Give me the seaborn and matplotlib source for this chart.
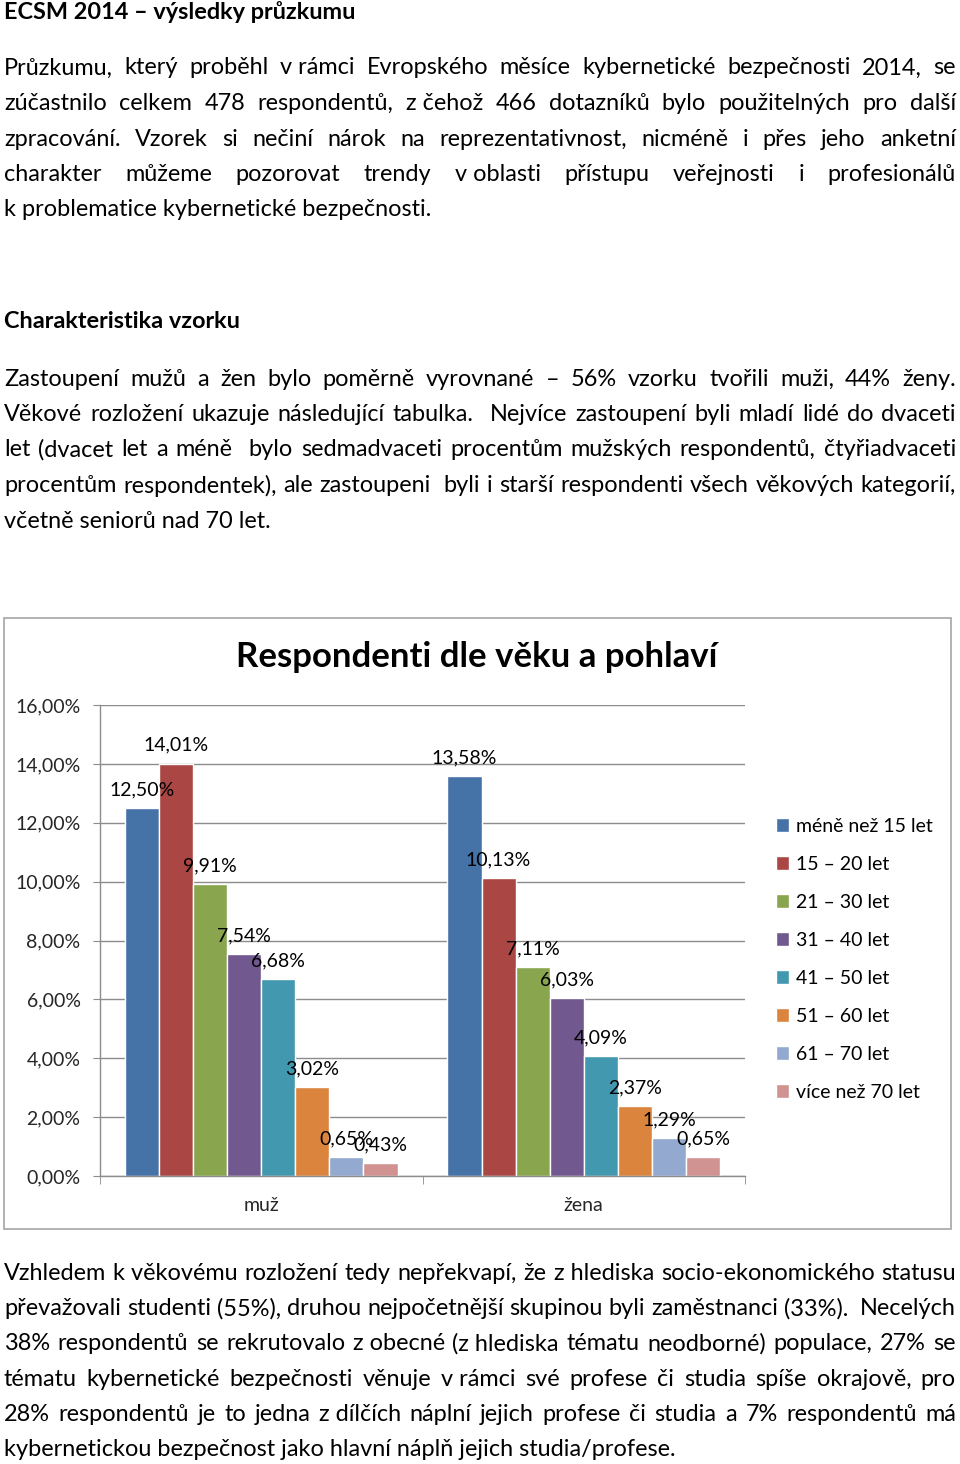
import matplotlib
matplotlib.use("Agg")
import matplotlib.pyplot as plt
from matplotlib.patches import Rectangle
import seaborn as sns
import pandas as pd

# ---------------- data ----------------
genders = ["muž", "žena"]
age_groups = ["méně než 15 let", "15 – 20 let", "21 – 30 let", "31 – 40 let",
              "41 – 50 let", "51 – 60 let", "61 – 70 let", "více než 70 let"]
men = [12.50, 14.01, 9.91, 7.54, 6.68, 3.02, 0.65, 0.43]
women = [13.58, 10.13, 7.11, 6.03, 4.09, 2.37, 1.29, 0.65]
colors = ["#4572A7", "#AA4643", "#89A54E", "#71588F", "#4198AF", "#DB843D", "#93A9CF", "#D19392"]
y_ticks = [0, 2, 4, 6, 8, 10, 12, 14, 16]

chart_title = "Respondenti dle věku a pohlaví"
doc_title = "ECSM 2014 – výsledky průzkumu"
heading2 = "Charakteristika vzorku"
para1 = [
    "Průzkumu, který proběhl v~rámci Evropského měsíce kybernetické bezpečnosti 2014, se",
    "zúčastnilo celkem 478 respondentů, z~čehož 466 dotazníků bylo použitelných pro další",
    "zpracování. Vzorek si nečiní nárok na reprezentativnost, nicméně i přes jeho anketní",
    "charakter můžeme pozorovat trendy v~oblasti přístupu veřejnosti i profesionálů",
    "k~problematice kybernetické bezpečnosti.",
]
para2 = [
    "Zastoupení mužů a žen bylo poměrně vyrovnané – 56% vzorku tvořili muži, 44% ženy.",
    "Věkové rozložení ukazuje následující tabulka.  Nejvíce zastoupení byli mladí lidé do dvaceti",
    "let (dvacet let a méně  bylo sedmadvaceti procentům mužských respondentů, čtyřiadvaceti",
    "procentům respondentek), ale zastoupeni  byli i starší respondenti všech věkových kategorií,",
    "včetně seniorů nad 70 let.",
]
para3 = [
    "Vzhledem k~věkovému rozložení tedy nepřekvapí, že z~hlediska socio-ekonomického statusu",
    "převažovali studenti (55%), druhou nejpočetnější skupinou byli zaměstnanci (33%).  Necelých",
    "38% respondentů se rekrutovalo z~obecné (z~hlediska tématu neodborné) populace, 27% se",
    "tématu kybernetické bezpečnosti věnuje v~rámci své profese či studia spíše okrajově, pro",
    "28% respondentů je to jedna z~dílčích náplní jejich profese či studia a 7% respondentů má",
    "kybernetickou bezpečnost jako hlavní náplň jejich studia/profese.",
]

# ---------------- setup ----------------
sns.set_style("white")
plt.rcParams["font.family"] = ["Lato", "DejaVu Sans"]
plt.rcParams["text.color"] = "black"

W, H = 960, 1464
fig = plt.figure(figsize=(W / 100, H / 100), dpi=100)
fig.patch.set_facecolor("white")
renderer = fig.canvas.get_renderer()


def fx(px):
    return px / W


def fy(py):
    return 1 - py / H


def measure(s, size, weight="normal"):
    if s == "":
        return 0.0
    t = fig.text(0, 0, s, fontsize=size, fontweight=weight)
    w = t.get_window_extent(renderer).width
    t.remove()
    return w


# body font size fitted to the width of a known unjustified line
ref_line = "k problematice kybernetické bezpečnosti."
body_size = 12 * 426 / measure(ref_line, 12)

LEFT, RIGHT = 4, 956


def draw_paragraph(lines, y0, step):
    for i, line in enumerate(lines):
        y = y0 + i * step
        last = (i == len(lines) - 1)
        if last:
            fig.text(fx(LEFT), fy(y), line.replace("~", " "), fontsize=body_size,
                     ha="left", va="center")
            continue
        tokens = [t.replace("~", " ") for t in line.split(" ")]
        widths = [measure(t, body_size) for t in tokens]
        gap = (RIGHT - LEFT - sum(widths)) / (len(tokens) - 1)
        x = LEFT
        for t, w in zip(tokens, widths):
            if t:
                fig.text(fx(x), fy(y), t, fontsize=body_size, ha="left", va="center")
            x += w + gap


fig.text(fx(LEFT), fy(12), doc_title, fontsize=body_size, fontweight="bold",
         ha="left", va="center")
draw_paragraph(para1, 68, 35.5)
fig.text(fx(LEFT), fy(322), heading2, fontsize=body_size, fontweight="bold",
         ha="left", va="center")
draw_paragraph(para2, 379, 35.5)
draw_paragraph(para3, 1273, 35.4)

# ---------------- chart ----------------
fig.patches.append(Rectangle((fx(4), fy(1229)), (951 - 4) / W, (1229 - 618) / H,
                             transform=fig.transFigure, fill=False,
                             edgecolor="#a6a6a6", linewidth=1.2))
fig.text(fx(477), fy(657), chart_title, fontsize=25, fontweight="bold",
         ha="center", va="center")

df = pd.DataFrame({
    "pohlavi": [g for g in genders for _ in age_groups],
    "vek": age_groups * len(genders),
    "podil": men + women,
})

ax = fig.add_axes([fx(100), fy(1176), (745 - 100) / W, (1176 - 705) / H])
sns.barplot(data=df, x="pohlavi", y="podil", hue="vek", order=genders,
            hue_order=age_groups, palette=colors, saturation=1, width=0.845,
            ax=ax, legend=True)

FS = 14
ax.set_xlim(-0.5, 1.5)
ax.set_ylim(0, 16)
ax.set_yticks(y_ticks)
ax.set_yticklabels([f"{v:.2f}".replace(".", ",") + "%" for v in y_ticks], fontsize=FS)
ax.set_xlabel("")
ax.set_ylabel("")
ax.grid(axis="y", color="#8c8c8c", linewidth=1)
ax.set_axisbelow(True)
for s in ["top", "right"]:
    ax.spines[s].set_visible(False)
for s in ["left", "bottom"]:
    ax.spines[s].set_color("#8c8c8c")
    ax.spines[s].set_linewidth(1)
ax.tick_params(axis="y", length=5, color="#8c8c8c", pad=9, labelsize=FS, left=True)
ax.set_xticks([0, 1])
ax.set_xticklabels(genders, fontsize=FS)
ax.tick_params(axis="x", which="major", length=0, pad=15, labelsize=FS)
ax.set_xticks([-0.5, 0.5, 1.5], minor=True)
ax.tick_params(axis="x", which="minor", length=6, color="#8c8c8c", bottom=True)

for container, m, w in zip(ax.containers, men, women):
    labels = [f"{v:.2f}".replace(".", ",") + "%" for v in (m, w)]
    ax.bar_label(container, labels=labels, padding=7, fontsize=FS)

handles, labels = ax.get_legend_handles_labels()
ax.legend(handles, labels, loc="upper left", bbox_to_anchor=(fx(768), fy(810)),
          bbox_transform=fig.transFigure, frameon=False, fontsize=FS,
          handlelength=0.7, handleheight=0.7, handletextpad=0.35,
          labelspacing=1.08, borderaxespad=0)

fig.savefig("out.png", dpi=100, facecolor="white")
